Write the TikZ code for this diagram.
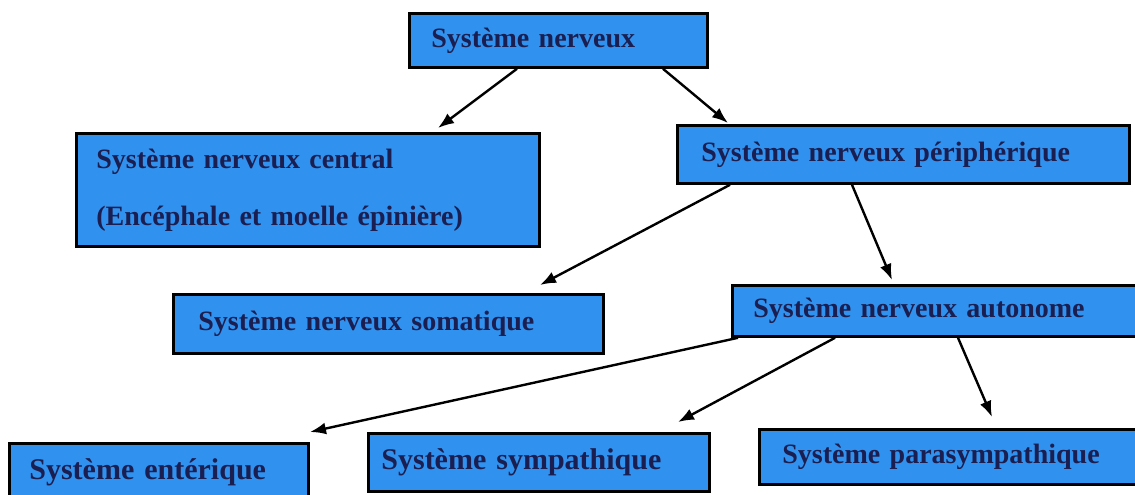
\documentclass[tikz,border=0pt]{standalone}
\usepackage{fontspec}
\setmainfont{Liberation Serif}
\usetikzlibrary{arrows.meta,calc}
\definecolor{boxblue}{RGB}{48,146,238}
\definecolor{inkblue}{RGB}{27,30,80}
\begin{document}
\begin{tikzpicture}[x=1pt,y=-1pt,
  box/.style={draw=black,line width=2.8pt,fill=boxblue,anchor=north west,
    align=left,inner xsep=0pt,inner ysep=0pt,
    font=\fontsize{28}{30}\selectfont\bfseries,text=inkblue},
  bigtext/.style={font=\fontsize{30}{32}\selectfont\bfseries},
  arr/.style={draw=black,line width=2.4pt,-{Latex[length=16pt,width=12pt]}}]
\clip (0,0) rectangle (1135,495);
\fill[white] (0,0) rectangle (1135,495);

% hierarchy boxes: text width = box width, left inset added with \hspace
\node[box,text width=298pt,minimum height=54pt] (sn) at (408,12) {\hspace*{22pt}Système nerveux};
\node[box,text width=463pt,minimum height=113pt] (snc) at (75,132)
  {\hspace*{20pt}Système nerveux central\\[27pt]\hspace*{20pt}(Encéphale et moelle épinière)};
\node[box,text width=452pt,minimum height=58pt] (snp) at (676,124) {\hspace*{24pt}Système nerveux périphérique};
\node[box,text width=430pt,minimum height=59pt] (som) at (172,293) {\hspace*{25pt}Système nerveux somatique};
\node[box,text width=420pt,minimum height=51pt] (sna) at (731,284) {\hspace*{21pt}Système nerveux autonome};
\node[box,bigtext,text width=299pt,minimum height=58pt] (ent) at (8,442) {\hspace*{20pt}Système entérique};
\node[box,bigtext,text width=341pt,minimum height=58pt] (sym) at (367,432) {\hspace*{13pt}Système sympathique};
\node[box,text width=400pt,minimum height=55pt] (par) at (758,428) {\hspace*{23pt}Système parasympathique};

% connectors
\draw[arr] ($(sn.south west)+(109,0)$) -- ($(snc.north west)+(363,-4)$);
\draw[arr] ($(sn.south west)+(255,0)$) -- ($(snp.north west)+(52,-1)$);
\draw[arr] ($(snp.south west)+(54,0)$) -- ($(som.north west)+(368,-8)$);
\draw[arr] ($(snp.south west)+(176,0)$) -- ($(sna.north west)+(161,-4)$);
\draw[arr] ($(sna.south west)+(7,0)$) -- ($(ent.north west)+(302,-10)$);
\draw[arr] ($(sna.south west)+(104,0)$) -- ($(sym.north west)+(311,-10)$);
\draw[arr] ($(sna.south west)+(227,0)$) -- ($(par.north west)+(234,-11)$);
\end{tikzpicture}
\end{document}
